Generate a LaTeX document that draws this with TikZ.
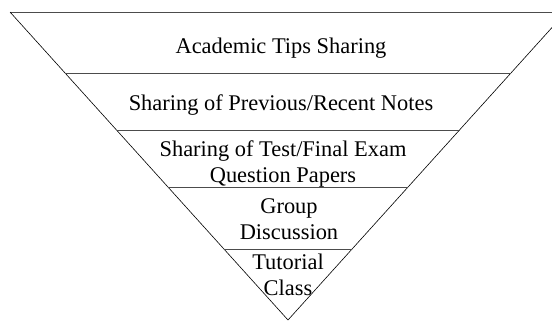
\documentclass[tikz,border=0pt]{standalone}
\usepackage{fontspec}
\setmainfont{Liberation Serif}
\usetikzlibrary{calc}

\tikzset{
    layer/.style={draw=black!70, line width=0.8bp},
    edge/.style={draw=black, line width=0.6bp},
    tier/.style={font=\fontsize{22.5}{25.5}\selectfont, align=center, anchor=base, inner sep=0pt}
}

\begin{document}
\begin{tikzpicture}[x=1bp, y=-1bp]
    \useasboundingbox (0,0) rectangle (552,322);
    \clip (0,0) rectangle (552,322);

    % Corners of the funnel
    \coordinate (top_left) at (10,12);
    \coordinate (top_right) at (566,12);
    \coordinate (apex) at (288,320);

    % Outline
    \draw[layer] (top_left) -- (top_right);
    \draw[edge] (top_left) -- (apex) -- (top_right);

    % Dividers between the tiers
    \foreach \y in {73,130,187,249} {
        \draw[layer] ($(top_left)!{(\y-12)/308}!(apex)$) -- ($(top_right)!{(\y-12)/308}!(apex)$);
    }

    % Tier labels (base = last line)
    \node[tier] (tips) at (281,53) {Academic Tips Sharing};
    \node[tier] (notes) at (281,110) {Sharing of Previous/Recent Notes};
    \node[tier] (papers) at (283,182) {Sharing of Test/Final Exam\\Question Papers};
    \node[tier] (group) at (289,239) {Group\\Discussion};
    \node[tier] (tutorial) at (288,295) {Tutorial\\Class};
\end{tikzpicture}
\end{document}
